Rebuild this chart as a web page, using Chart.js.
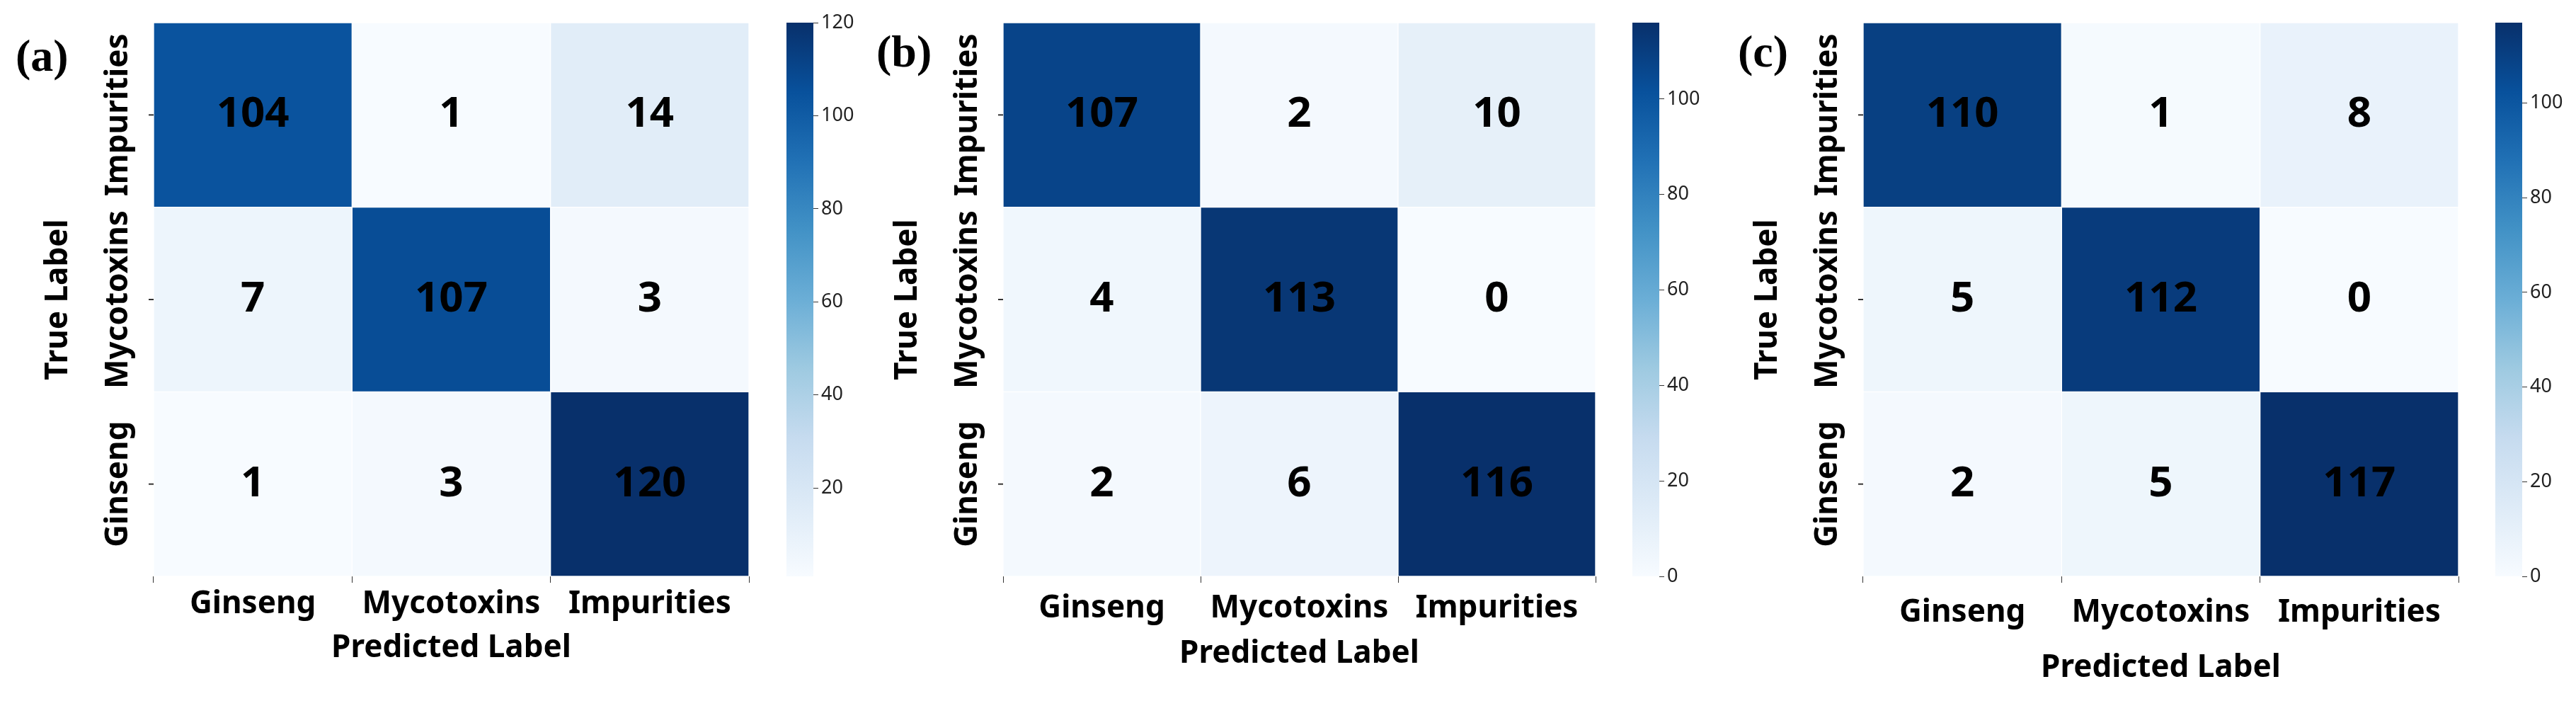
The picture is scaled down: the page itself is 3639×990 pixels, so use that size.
<!doctype html>
<html lang="en">
<head>
    <meta charset="utf-8">
    <title>Confusion matrices</title>
    <script src="https://cdn.jsdelivr.net/npm/chart.js@4.4.0/dist/chart.umd.min.js"></script>
    <style>
        body { margin: 0; background: #fff; width: 3639px; height: 990px; position: relative; overflow: hidden; }
        canvas { position: absolute; top: 0; }
        .tag { position: absolute; font-family: "Liberation Serif", serif; font-weight: bold; font-size: 64px; }
    </style>
</head>
<body>
    <div class="tag" style="left:22px; top:42px;">(a)</div>
    <div class="tag" style="left:1238px; top:36px;">(b)</div>
    <div class="tag" style="left:2455px; top:36px;">(c)</div>

    <canvas id="hmA" width="1062" height="990" style="left:0px"></canvas>
    <canvas id="cbA" width="110" height="990" style="left:1111px"></canvas>
    <canvas id="hmB" width="1058" height="990" style="left:1200px"></canvas>
    <canvas id="cbB" width="110" height="990" style="left:2306px"></canvas>
    <canvas id="hmC" width="1062" height="990" style="left:2415px"></canvas>
    <canvas id="cbC" width="110" height="990" style="left:3525px"></canvas>
<script>
    // categories (columns = predicted, rows top -> bottom = true)
    const predicted = ["Ginseng", "Mycotoxins", "Impurities"];
    const trueRows = ["Impurities", "Mycotoxins", "Ginseng"];

    // values per panel, rows top -> bottom
    const valuesA = [[104, 1, 14], [7, 107, 3], [1, 3, 120]];
    const valuesB = [[107, 2, 10], [4, 113, 0], [2, 6, 116]];
    const valuesC = [[110, 1, 8], [5, 112, 0], [2, 5, 117]];

    // colour bar ranges and ticks
    const rangeA = [1, 120];
    const rangeB = [0, 116];
    const rangeC = [0, 117];
    const ticksA = [20, 40, 60, 80, 100, 120];
    const ticksB = [0, 20, 40, 60, 80, 100];
    const ticksC = [0, 20, 40, 60, 80, 100];

    const blues = ["#f7fbff", "#deebf7", "#c6dbef", "#9ecae1", "#6baed6", "#4292c6", "#2171b5", "#08519c", "#08306b"];

    let hex = h => [1, 3, 5].map(i => parseInt(h.substr(i, 2), 16));
    let blue = t => {
        t = Math.max(0, Math.min(1, t)) * (blues.length - 1);
        let i = Math.min(Math.floor(t), blues.length - 2), f = t - i;
        let a = hex(blues[i]), b = hex(blues[i + 1]);
        return "rgb(" + a.map((v, k) => Math.round(v + (b[k] - v) * f)).join(",") + ")";
    };

    const labelFont = "'Noto Sans', sans-serif";

    const cellText = {
        id: "cellText",
        afterDatasetsDraw(chart) {
            let ctx = chart.ctx;
            ctx.save();
            ctx.font = "bold 60px " + labelFont;
            ctx.fillStyle = "#000";
            ctx.textAlign = "center";
            ctx.textBaseline = "middle";
            chart.data.datasets.forEach((ds, r) => {
                chart.getDatasetMeta(r).data.forEach((el, c) => {
                    ctx.fillText(String(ds.values[c]), el.x, (el.y + el.base) / 2);
                });
            });
            // y tick labels, rotated
            let y = chart.scales.y, area = chart.chartArea;
            ctx.font = "bold 44px " + labelFont;
            ctx.strokeStyle = "#333";
            ctx.lineWidth = 2;
            trueRows.forEach((name, r) => {
                let py = y.getPixelForValue(2.5 - r);
                ctx.beginPath();
                ctx.moveTo(area.left - 7, py);
                ctx.lineTo(area.left, py);
                ctx.stroke();
                ctx.save();
                ctx.translate(area.left - 50, py);
                ctx.rotate(-Math.PI / 2);
                ctx.fillText(name, 0, 0);
                ctx.restore();
            });
            ctx.restore();
        }
    };

    let heatmap = (id, values, range, xTickPad, xTitlePad) => {
        let datasets = trueRows.map((name, r) => ({
            label: name,
            values: values[r],
            data: values[r].map(() => [2 - r, 3 - r]),
            backgroundColor: values[r].map(v => blue((v - range[0]) / (range[1] - range[0]))),
            borderColor: "rgba(255,255,255,0.55)",
            borderWidth: 1,
            borderSkipped: false,
            barPercentage: 1,
            categoryPercentage: 1,
            grouped: false
        }));
        return new Chart(document.getElementById(id), {
            type: "bar",
            data: { labels: predicted, datasets: datasets },
            options: {
                responsive: false,
                animation: false,
                devicePixelRatio: 1,
                layout: { padding: { top: 32, right: 4, left: 0, bottom: 0 } },
                plugins: { legend: { display: false }, tooltip: { enabled: false } },
                scales: {
                    x: {
                        grid: { drawOnChartArea: false, tickLength: 9, color: "#333" },
                        border: { display: false },
                        ticks: { color: "#000", padding: xTickPad, font: { family: labelFont, weight: "bold", size: 44 } },
                        title: { display: true, text: "Predicted Label", color: "#000", padding: { top: 0, bottom: xTitlePad }, font: { family: labelFont, weight: "bold", size: 44 } },
                        afterFit: s => { s.height = 990 - 32 - 782; }
                    },
                    y: {
                        min: 0, max: 3,
                        grid: { display: false },
                        border: { display: false },
                        ticks: { display: false },
                        title: { display: true, text: "True Label", color: "#000", padding: { top: 56, bottom: 56 }, font: { family: labelFont, weight: "bold", size: 44 } },
                        afterFit: s => { s.width = 217; }
                    }
                }
            },
            plugins: [cellText]
        });
    };

    let colorbar = (id, range, ticks) => {
        return new Chart(document.getElementById(id), {
            type: "bar",
            data: {
                labels: [""],
                datasets: [{
                    data: [range],
                    barPercentage: 1,
                    categoryPercentage: 1,
                    backgroundColor: ctx => {
                        let chart = ctx.chart, a = chart.chartArea;
                        if (!a) return blues[4];
                        let g = chart.ctx.createLinearGradient(0, a.bottom, 0, a.top);
                        blues.forEach((c, i) => g.addColorStop(i / (blues.length - 1), c));
                        return g;
                    }
                }]
            },
            options: {
                responsive: false,
                animation: false,
                devicePixelRatio: 1,
                layout: { padding: { top: 32, bottom: 176, left: 0, right: 0 } },
                plugins: { legend: { display: false }, tooltip: { enabled: false } },
                scales: {
                    x: { display: false },
                    y: {
                        position: "right",
                        min: range[0], max: range[1],
                        grid: { drawOnChartArea: false, tickLength: 7, color: "#333" },
                        border: { display: false },
                        ticks: { color: "#222", padding: 4, font: { family: labelFont, size: 27 } },
                        afterBuildTicks: s => { s.ticks = ticks.map(v => ({ value: v })); },
                        afterFit: s => { s.width = 110 - 38; }
                    }
                }
            }
        });
    };

    heatmap("hmA", valuesA, rangeA, 4, 48);
    colorbar("cbA", rangeA, ticksA);
    heatmap("hmB", valuesB, rangeB, 10, 40);
    colorbar("cbB", rangeB, ticksB);
    heatmap("hmC", valuesC, rangeC, 16, 20);
    colorbar("cbC", rangeC, ticksC);
</script>
</body>
</html>
